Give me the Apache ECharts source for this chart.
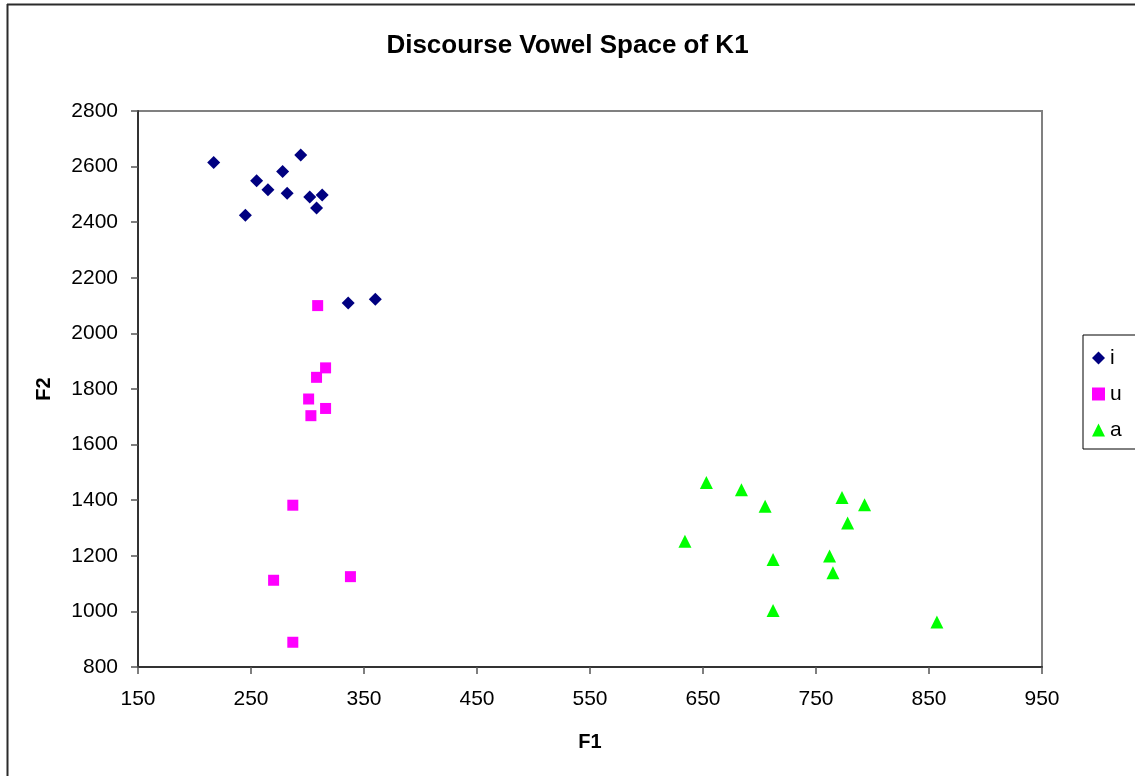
<!DOCTYPE html>
<html>
<head>
<meta charset="utf-8">
<title>Discourse Vowel Space of K1</title>
<script src="https://cdn.jsdelivr.net/npm/echarts@6/dist/echarts.min.js"></script>
<style>
  html, body { margin: 0; padding: 0; background: #fff; }
  #chart { width: 1135px; height: 776px; }
</style>
</head>
<body>
<div id="chart"></div>
<script>
// F1 / F2 readings per vowel, [F1, F2]
const vowelI = [
  [217, 2615], [294, 2642], [278, 2582], [255, 2549], [265, 2517],
  [282, 2504], [302, 2491], [313, 2498], [308, 2451], [245, 2425],
  [336, 2109], [360, 2123]
];
const vowelU = [
  [309, 2100], [316, 1876], [308, 1842], [301, 1764], [316, 1730],
  [303, 1704], [287, 1382], [270, 1112], [338, 1125], [287, 889]
];
const vowelA = [
  [653, 1464], [684, 1438], [705, 1378], [634, 1252], [712, 1187],
  [712, 1003], [773, 1410], [793, 1384], [778, 1318], [762, 1199],
  [765, 1139], [857, 962]
];

const xTicks = { min: 150, max: 950, step: 100 };
const yTicks = { min: 800, max: 2800, step: 200 };

const font = '"Liberation Sans", Arial, sans-serif';
const chart = echarts.init(document.getElementById('chart'));

const axisCommon = {
  axisLine: { show: true, lineStyle: { color: '#333', width: 2 } },
  axisTick: { show: true, inside: false, length: 7, lineStyle: { color: '#555', width: 1.5 } },
  splitLine: { show: false },
  axisLabel: { color: '#000', fontFamily: font, fontSize: 21, formatter: (v) => String(v) },
  nameTextStyle: { color: '#000', fontFamily: font, fontSize: 20, fontWeight: 'bold' }
};

chart.setOption({
  animation: false,
  backgroundColor: '#fff',
  title: {
    text: 'Discourse Vowel Space of K1',
    left: 'center',
    top: 28,
    textStyle: { fontFamily: font, fontSize: 26, fontWeight: 'bold', color: '#000' }
  },
  graphic: [
    { type: 'line', shape: { x1: 7.5, y1: 4, x2: 7.5, y2: 776 }, style: { stroke: '#2b2b2b', lineWidth: 2 } },
    { type: 'line', shape: { x1: 7, y1: 4.5, x2: 1135, y2: 4.5 }, style: { stroke: '#2b2b2b', lineWidth: 2 } }
  ],
  grid: {
    left: 138, top: 111, right: 93, bottom: 109,
    show: true, borderColor: '#808080', borderWidth: 2
  },
  legend: {
    orient: 'vertical',
    left: 1083,
    top: 335,
    padding: [12, 14, 8, 9],
    itemGap: 14,
    itemWidth: 13,
    itemHeight: 13,
    borderColor: '#000',
    borderWidth: 1,
    textStyle: { fontFamily: font, fontSize: 21, color: '#000', lineHeight: 22 },
    data: ['i', 'u', 'a']
  },
  xAxis: Object.assign({}, axisCommon, {
    type: 'value',
    min: xTicks.min, max: xTicks.max, interval: xTicks.step,
    name: 'F1',
    nameLocation: 'middle',
    nameGap: 65,
    axisLabel: Object.assign({}, axisCommon.axisLabel, { margin: 22 })
  }),
  yAxis: Object.assign({}, axisCommon, {
    type: 'value',
    min: yTicks.min, max: yTicks.max, interval: yTicks.step,
    name: 'F2',
    nameLocation: 'middle',
    nameGap: 84,
    axisLabel: Object.assign({}, axisCommon.axisLabel, { margin: 20 })
  }),
  series: [
    { name: 'i', type: 'scatter', symbol: 'diamond', symbolSize: 13, itemStyle: { color: '#000080', opacity: 1 }, data: vowelI },
    { name: 'u', type: 'scatter', symbol: 'rect', symbolSize: 11, itemStyle: { color: '#ff00ff', opacity: 1 }, data: vowelU },
    { name: 'a', type: 'scatter', symbol: 'triangle', symbolSize: 13, itemStyle: { color: '#00ff00', opacity: 1 }, data: vowelA }
  ]
});
</script>
</body>
</html>
